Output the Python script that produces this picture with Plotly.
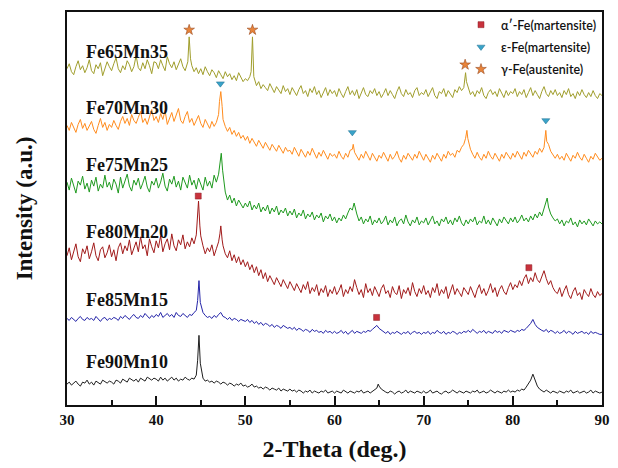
import plotly.graph_objects as go

# ---------------- data (intensity in arbitrary units, curves stacked) ----------------
# each list holds the readings at 2-theta = 30.00, 30.25, ... 90.00 (241 samples)
two_theta_start = 30.0
two_theta_step = 0.25

fe65mn35 = [
    338, 343, 335, 332, 340, 346, 337, 341, 334, 339, 347, 336, 333, 342, 338, 344, 331, 337, 345, 340,
    336, 343, 349, 338, 334, 341, 337, 346, 342, 335, 340, 351, 339, 336, 344, 338, 347, 341, 333, 345,
    344, 338, 347, 341, 336, 350, 343, 339, 345, 337, 342, 348, 340, 336, 343, 350, 341, 335, 339, 333,
    338, 332, 340, 335, 331, 337, 334, 329, 336, 332, 328, 335, 330, 333, 327, 331, 326, 334, 329, 325,
    328, 326, 330, 330, 324, 321, 325, 318, 322, 319, 316, 323, 318, 314, 320, 317, 313, 321, 315, 318,
    312, 319, 315, 311, 317, 321, 313, 316, 310, 318, 314, 320, 312, 316, 309, 315, 319, 311, 317, 313,
    316, 310, 318, 313, 309, 315, 320, 312, 316, 311, 317, 308, 314, 319, 312, 310, 316, 313, 318, 311,
    315, 309, 313, 318, 311, 316, 312, 308, 315, 320, 313, 310, 317, 312, 314, 309, 316, 319, 311, 314,
    312, 317, 310, 314, 319, 311, 308, 315, 313, 318, 310, 316, 312, 309, 317, 314, 320, 316, 319, 322,
    318, 312, 315, 310, 316, 313, 319, 311, 308, 314, 317, 312, 315, 310, 318, 313, 309, 316, 311, 315,
    313, 318, 310, 315, 312, 317, 309, 314, 319, 311, 316, 312, 308, 315, 320, 313, 310, 316, 312, 317,
    311, 314, 309, 316, 312, 318, 310, 313, 308, 315, 311, 317, 312, 309, 314, 310, 316, 311, 308, 313,
    311]
fe65mn35_peaks_x = [43.55, 43.7, 43.85, 50.65, 50.8, 50.95, 74.6, 74.7, 74.8]
fe65mn35_peaks_y = [345, 370, 348, 335, 370, 330, 326, 334, 325]

fe70mn30 = [
    281, 276, 284, 279, 274, 282, 287, 278, 283, 276, 280, 285, 277, 273, 281, 288, 279, 284, 276, 282,
    279, 286, 281, 277, 285, 290, 283, 288, 281, 292, 286, 283, 289, 295, 284, 288, 282, 291, 297, 286,
    290, 284, 293, 287, 296, 282, 289, 294, 285, 291, 298, 286, 283, 290, 295, 284, 288, 281, 286, 291,
    283, 279, 287, 282, 278, 285, 280, 284, 292, 300, 287, 280, 275, 279, 272, 276, 270, 274, 268, 271,
    266, 270, 263, 268, 264, 260, 266, 262, 258, 264, 260, 256, 262, 258, 255, 261, 257, 253, 259, 255,
    256, 252, 259, 254, 250, 257, 253, 249, 255, 251, 258, 252, 248, 254, 250, 256, 252, 247, 253, 250,
    252, 248, 255, 250, 247, 253, 249, 256, 257, 254, 250, 246, 252, 248, 255, 251, 246, 253, 249, 245,
    251, 248, 254, 249, 245, 252, 247, 250, 255, 248, 244, 251, 247, 253, 249, 246, 252, 248, 255, 250,
    246, 252, 248, 244, 251, 247, 253, 249, 245, 252, 248, 255, 251, 253, 249, 256, 254, 259, 262, 270,
    266, 257, 252, 248, 254, 249, 246, 252, 248, 255, 250, 247, 253, 249, 245, 252, 248, 254, 250, 247,
    253, 249, 255, 251, 247, 254, 250, 256, 252, 249, 255, 252, 258, 254, 259, 270, 262, 255, 251, 248,
    252, 247, 250, 246, 253, 249, 245, 251, 248, 254, 249, 246, 252, 248, 244, 250, 247, 253, 249, 246,
    248]
fe70mn30_peaks_x = [47.1, 47.25, 47.4, 62.1, 74.7, 74.85, 74.95, 83.6, 83.7, 83.8]
fe70mn30_peaks_y = [305, 315, 300, 262, 268, 276, 268, 266, 276, 265]

fe75mn25 = [
    224, 216, 228, 219, 213, 225, 221, 230, 217, 223, 214, 226, 220, 229, 215, 222, 218, 231, 219, 224,
    216, 227, 222, 213, 229, 218, 224, 232, 220, 215, 226, 221, 228, 217, 223, 230, 219, 214, 225, 221,
    228, 218, 224, 233, 220, 215, 227, 222, 230, 219, 225, 216, 229, 223, 218, 231, 221, 226, 217, 228,
    222, 216, 229, 220, 225, 218, 231, 224, 232, 245, 226, 214, 206, 211, 203, 208, 200, 206, 202, 198,
    203, 199, 205, 196, 201, 197, 203, 194, 199, 195, 201, 192, 198, 194, 200, 191, 196, 193, 198, 190,
    195, 191, 197, 188, 193, 190, 196, 187, 192, 189, 194, 186, 191, 188, 193, 184, 190, 187, 192, 185,
    189, 183, 188, 185, 191, 187, 193, 198, 196, 200, 192, 185, 189, 182, 187, 184, 190, 181, 186, 183,
    188, 182, 185, 190, 181, 186, 183, 189, 180, 185, 187, 182, 191, 184, 180, 186, 183, 189, 181, 185,
    183, 188, 181, 186, 190, 182, 185, 180, 187, 184, 189, 182, 186, 181, 188, 184, 190, 183, 180, 186,
    182, 187, 184, 189, 181, 185, 183, 190, 182, 186, 181, 188, 184, 180, 187, 183, 189, 185, 182, 188,
    184, 189, 183, 186, 191, 185, 188, 184, 190, 186, 192, 188, 194, 190, 197, 205, 199, 192, 188, 185,
    187, 182, 186, 180, 185, 183, 188, 181, 184, 179, 186, 182, 185, 181, 187, 183, 180, 185, 182, 184,
    182]
fe75mn25_peaks_x = [47.15, 47.3, 47.45, 62.2, 83.7, 83.85]
fe75mn25_peaks_y = [242, 253, 236, 203, 204, 208]

fe80mn20 = [
    150, 158, 146, 155, 162, 149, 144, 157, 152, 160, 147, 154, 163, 150, 145, 156, 159, 148, 153, 161,
    149, 156, 145, 158, 163, 152, 160, 155, 166, 151, 158, 164, 154, 169, 157, 161, 150, 167, 159, 153,
    165, 158, 170, 154, 162, 167, 156, 172, 160, 155, 166, 161, 171, 157, 164, 159, 168, 162, 171, 190,
    170, 160, 152, 158, 154, 161, 150, 157, 164, 175, 160, 152, 148, 155, 145, 151, 143, 149, 141, 146,
    139, 144, 136, 141, 133, 139, 130, 136, 127, 133, 124, 130, 126, 121, 128, 123, 119, 126, 121, 117,
    124, 119, 115, 122, 118, 113, 121, 116, 124, 112, 118, 114, 121, 110, 117, 113, 120, 109, 116, 112,
    119, 111, 115, 121, 109, 116, 112, 119, 114, 126, 118, 111, 116, 108, 122, 113, 117, 110, 119, 114,
    109, 117, 121, 112, 115, 108, 119, 113, 111, 120, 107, 116, 112, 118, 110, 123, 114, 109, 117, 112,
    120, 111, 115, 108, 118, 113, 122, 110, 116, 112, 119, 107, 114, 121, 111, 117, 113, 109, 118, 115,
    111, 119, 114, 108, 116, 121, 112, 117, 110, 115, 122, 113, 118, 109, 116, 120, 114, 111, 118, 123,
    116, 121, 118, 125, 120, 127, 131, 122, 128, 124, 133, 126, 123, 129, 135, 127, 121, 125, 118, 114,
    112, 118, 109, 115, 120, 111, 107, 114, 118, 110, 113, 106, 116, 112, 109, 117, 111, 108, 114, 110,
    112]
fe80mn20_peaks_x = [44.6, 44.75, 44.9, 47.15, 47.25, 47.4]
fe80mn20_peaks_y = [185, 205, 180, 172, 180, 166]

fe85mn15 = [
    87, 85, 88, 86, 84, 87, 89, 86, 85, 88, 86, 87, 85, 89, 86, 84, 87, 88, 85, 87,
    86, 88, 87, 85, 89, 87, 90, 88, 86, 89, 91, 88, 87, 90, 88, 92, 89, 87, 90, 88,
    91, 89, 93, 88, 90, 92, 89, 91, 88, 93, 90, 89, 92, 90, 88, 91, 90, 93, 95, 110,
    98, 93, 90, 88, 89, 87, 90, 88, 91, 93, 89, 88, 86, 88, 85, 87, 86, 84, 86, 85,
    84, 86, 83, 85, 82, 84, 81, 83, 80, 82, 81, 79, 81, 78, 80, 79, 77, 80, 78, 77,
    78, 76, 78, 75, 77, 76, 74, 76, 75, 73, 76, 74, 75, 73, 74, 72, 75, 73, 74, 72,
    74, 72, 73, 75, 72, 74, 71, 73, 75, 72, 74, 73, 72, 74, 73, 75, 74, 76, 78, 80,
    77, 75, 73, 72, 74, 71, 73, 72, 74, 72, 71, 73, 72, 74, 71, 73, 74, 72, 73, 71,
    73, 72, 74, 71, 73, 72, 75, 73, 72, 74, 71, 73, 72, 74, 73, 71, 73, 72, 74, 73,
    75, 73, 76, 74, 72, 74, 73, 75, 72, 74, 73, 72, 75, 73, 74, 72, 75, 74, 73, 75,
    74, 73, 75, 74, 76, 75, 77, 79, 82, 84, 81, 78, 76, 75, 74, 76, 73, 75, 74, 72,
    74, 72, 73, 75, 72, 74, 73, 71, 74, 72, 73, 74, 72, 73, 71, 74, 72, 73, 72, 71,
    71]
fe85mn15_peaks_x = [44.65, 44.8, 44.95, 64.75, 82.25]
fe85mn15_peaks_y = [105, 125, 103, 80, 86]

fe90mn10 = [
    21, 23, 20, 22, 24, 21, 19, 23, 22, 25, 21, 23, 20, 24, 22, 21, 25, 23, 22, 24,
    23, 21, 25, 24, 22, 26, 24, 23, 27, 25, 24, 26, 23, 27, 25, 24, 28, 26, 25, 27,
    26, 24, 28, 25, 27, 24, 26, 28, 25, 27, 24, 26, 25, 28, 26, 25, 27, 26, 30, 55,
    32, 27, 24, 25, 23, 24, 22, 24, 23, 21, 23, 22, 20, 22, 21, 19, 21, 20, 22, 19,
    20, 18, 19, 21, 18, 19, 17, 18, 16, 18, 17, 15, 17, 16, 15, 17, 14, 16, 15, 14,
    16, 14, 15, 13, 15, 14, 12, 14, 13, 15, 12, 14, 13, 12, 14, 13, 15, 12, 13, 14,
    12, 14, 13, 12, 15, 13, 12, 14, 13, 12, 14, 13, 15, 12, 13, 14, 12, 14, 15, 17,
    19, 16, 14, 13, 12, 14, 13, 11, 13, 14, 12, 13, 15, 12, 14, 13, 12, 14, 13, 12,
    14, 12, 13, 15, 12, 13, 14, 12, 11, 13, 14, 12, 13, 15, 13, 12, 14, 13, 12, 14,
    13, 12, 14, 13, 15, 12, 13, 14, 12, 13, 15, 13, 12, 14, 13, 12, 14, 13, 15, 13,
    14, 13, 15, 14, 16, 15, 18, 21, 25, 28, 24, 19, 16, 14, 13, 15, 13, 12, 14, 13,
    12, 14, 13, 12, 14, 13, 15, 12, 13, 14, 12, 13, 14, 12, 13, 15, 12, 14, 13, 12,
    13]
fe90mn10_peaks_x = [44.65, 44.8, 44.95, 64.9, 82.25]
fe90mn10_peaks_y = [45, 70, 42, 21, 31]

sample_names = ["Fe65Mn35", "Fe70Mn30", "Fe75Mn25", "Fe80Mn20", "Fe85Mn15", "Fe90Mn10"]
sample_colors = ["#a09e2c", "#ff8c1e", "#1f9a1f", "#a11a1a", "#2424a8", "#1e1e1e"]
label_y = [355, 299, 241, 174, 106, 43]

# phase markers
alpha_x = [44.72, 64.72, 81.8]
alpha_y = [210, 88, 138]
eps_x = [47.2, 62.0, 83.7]
eps_y = [323, 274, 286]
gamma_x = [43.7, 50.8, 74.65]
gamma_y = [377, 377, 342]

x_ticks = [30, 40, 50, 60, 70, 80, 90]

# ---------------- build figure ----------------
series = [
    (fe65mn35, fe65mn35_peaks_x, fe65mn35_peaks_y),
    (fe70mn30, fe70mn30_peaks_x, fe70mn30_peaks_y),
    (fe75mn25, fe75mn25_peaks_x, fe75mn25_peaks_y),
    (fe80mn20, fe80mn20_peaks_x, fe80mn20_peaks_y),
    (fe85mn15, fe85mn15_peaks_x, fe85mn15_peaks_y),
    (fe90mn10, fe90mn10_peaks_x, fe90mn10_peaks_y),
]

fig = go.Figure()
for (vals, pkx, pky), name, col in zip(series, sample_names, sample_colors):
    assert len(vals) == 241, (name, len(vals))
    pts = []
    for i, v in enumerate(vals):
        xv = two_theta_start + two_theta_step * i
        if min(abs(xv - p) for p in pkx) > 0.09:
            pts.append((xv, v))
    pts += list(zip(pkx, pky))
    pts.sort(key=lambda p: p[0])
    fig.add_trace(go.Scatter(
        x=[p[0] for p in pts], y=[p[1] for p in pts], mode="lines",
        line=dict(color=col, width=1), name=name, showlegend=False,
        hoverinfo="skip"))

fig.add_trace(go.Scatter(
    x=alpha_x, y=alpha_y, mode="markers", name="\u03b1\u2032-Fe(martensite)",
    marker=dict(symbol="square", size=6, color="#c8323c",
                line=dict(color="#8a1f25", width=0.5)),
    legendgroup="a"))
fig.add_trace(go.Scatter(
    x=eps_x, y=eps_y, mode="markers", name="\u03b5-Fe(martensite)",
    marker=dict(symbol="triangle-down", size=7, color="#3aa3c9",
                line=dict(color="#1f6f8f", width=0.5)),
    legendgroup="b"))
fig.add_trace(go.Scatter(
    x=gamma_x, y=gamma_y, mode="markers", name="\u03b3-Fe(austenite)",
    marker=dict(symbol="star", size=8, color="#e8843a",
                line=dict(color="#9a4a1e", width=0.6)),
    legendgroup="c"))

serif = "Liberation Serif, Times New Roman, serif"
for name, yv in zip(sample_names, label_y):
    fig.add_annotation(x=31.85, y=yv, xref="x", yref="y", text="<b>%s</b>" % name,
                       showarrow=False, xanchor="left", yanchor="middle",
                       font=dict(family=serif, size=18, color="#111111"))

# the page body adds an 8 px offset, so the figure is sized 610 x 460
fig.update_layout(
    width=610, height=460,
    margin=dict(l=59, r=16, t=2, b=63),
    paper_bgcolor="white", plot_bgcolor="white",
    showlegend=True,
    legend=dict(x=1.0, y=1.005, xanchor="right", yanchor="top",
                bgcolor="rgba(0,0,0,0)", traceorder="grouped", tracegroupgap=3,
                font=dict(family="Lato, Open Sans, sans-serif", size=12.5, color="#111111",
                          weight=600),
                itemsizing="trace"),
    xaxis=dict(range=[30, 90], tickvals=x_ticks, ticks="inside", ticklen=9,
               tickwidth=1.5, tickcolor="#111111",
               minor=dict(ticks="inside", ticklen=5, tickwidth=1.5, dtick=5, tick0=35,
                          tickcolor="#111111"),
               showline=True, linecolor="#111111", linewidth=1.5, mirror=True,
               showgrid=False, zeroline=False,
               tickfont=dict(family=serif, size=15, color="#111111", weight="bold"),
               title=dict(text="<b>2-Theta (deg.)</b>",
                          font=dict(family=serif, size=24, color="#111111"),
                          standoff=13)),
    yaxis=dict(range=[0, 395], showticklabels=False, ticks="",
               showline=True, linecolor="#111111", linewidth=1.5, mirror=True,
               showgrid=False, zeroline=False,
               title=dict(text="<b>Intensity (a.u.)</b>",
                          font=dict(family=serif, size=23, color="#111111"),
                          standoff=26)),
)

fig.write_html("out.html")
